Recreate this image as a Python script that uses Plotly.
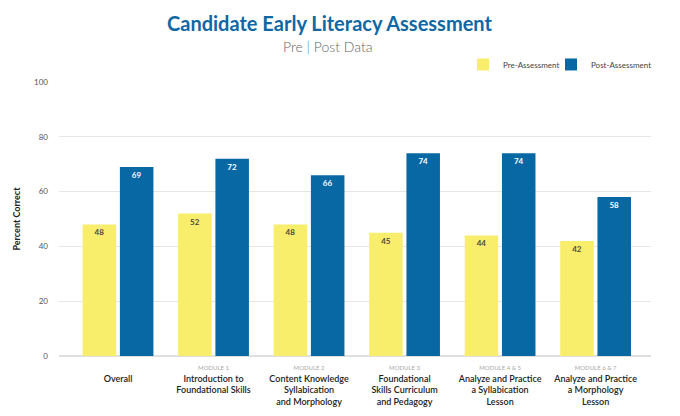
import plotly.graph_objects as go

categories = [
    "Overall",
    "Introduction to Foundational Skills",
    "Content Knowledge Syllabication and Morphology",
    "Foundational Skills Curriculum and Pedagogy",
    "Analyze and Practice a Syllabication Lesson",
    "Analyze and Practice a Morphology Lesson",
]
modules = ["", "MODULE 1", "MODULE 2", "MODULE 3", "MODULE 4 & 5", "MODULE 6 & 7"]
label_lines = [
    ["Overall"],
    ["Introduction to", "Foundational Skills"],
    ["Content Knowledge", "Syllabication", "and Morphology"],
    ["Foundational", "Skills Curriculum", "and Pedagogy"],
    ["Analyze and Practice", "a Syllabication", "Lesson"],
    ["Analyze and Practice", "a Morphology", "Lesson"],
]
pre_assessment = [48, 52, 48, 45, 44, 42]
post_assessment = [69, 72, 66, 74, 74, 58]

YELLOW = "#f9ee6c"
BLUE = "#0868a4"

# page body has an 8px margin, so the figure is sized for what is left
W, H = 672, 408
L, R, T, B = 51, 29, 74, 60
pw = W - L - R

ticktext = []
for mod, lines in zip(modules, label_lines):
    top = "<span style='font-size:6px;color:#a8a8a8;font-weight:400'>%s</span>" % (mod if mod else "&nbsp;")
    ticktext.append("<br>".join([top] + lines))

fig = go.Figure()
fig.add_trace(go.Bar(
    name="Pre-Assessment", x=categories, y=pre_assessment, legend="legend",
    marker=dict(color=YELLOW, line=dict(width=0)),
    texttemplate="<b>%{y}</b>", textposition="inside", insidetextanchor="end",
    textfont=dict(size=8, color="#4a4a3a"), textangle=0,
))
fig.add_trace(go.Bar(
    name="Post-Assessment", x=categories, y=post_assessment, legend="legend2",
    marker=dict(color=BLUE, line=dict(width=0)),
    texttemplate="<b>%{y}</b>", textposition="inside", insidetextanchor="end",
    textfont=dict(size=8, color="white"), textangle=0,
))

leg = dict(orientation="h", xanchor="right", y=1.064, yanchor="middle",
           font=dict(size=8, color="#444444"), itemwidth=30,
           bgcolor="rgba(0,0,0,0)")
fig.update_layout(
    width=W, height=H,
    margin=dict(l=L, r=R, t=T, b=B),
    paper_bgcolor="white", plot_bgcolor="white",
    font=dict(family="Lato", size=9, color="#222222"),
    barmode="group", bargap=0.22, bargroupgap=0.1,
    legend=dict(leg, x=(557 - L) / pw),
    legend2=dict(leg, x=(649 - L) / pw),
    showlegend=True,
)
fig.update_xaxes(
    tickmode="array", tickvals=categories, ticktext=ticktext,
    range=[-0.618, 5.58], showgrid=False, showline=False, ticks="",
    tickfont=dict(size=9, color="#222222", family="Lato", weight=600),
    ticklabelstandoff=4, automargin=False,
)
fig.update_yaxes(
    range=[0, 100], dtick=20, showgrid=True, gridcolor="#e6e6e6", gridwidth=1,
    zeroline=True, zerolinecolor="#e0e0e0", zerolinewidth=1.5,
    tickfont=dict(size=8, color="#555555"), ticklabelstandoff=10,
    title=dict(text="<b>Percent Correct</b>", font=dict(size=9, color="#222222"), standoff=11),
    automargin=False,
)

fig.add_annotation(
    text="<b>Candidate Early Literacy Assessment</b>", xref="paper", yref="paper",
    x=(321 - L) / pw, y=1, yshift=59, xanchor="center", yanchor="middle", showarrow=False,
    font=dict(size=20, color="#0f67a3", family="Lato"),
)
fig.add_annotation(
    text="Pre <span style='color:#1f8fc4'>|</span> Post Data", xref="paper", yref="paper",
    x=(320 - L) / pw, y=1, yshift=36, xanchor="center", yanchor="middle", showarrow=False,
    font=dict(size=14, color="#666666", family="Lato", weight=300),
)

fig.write_html("out.html")
